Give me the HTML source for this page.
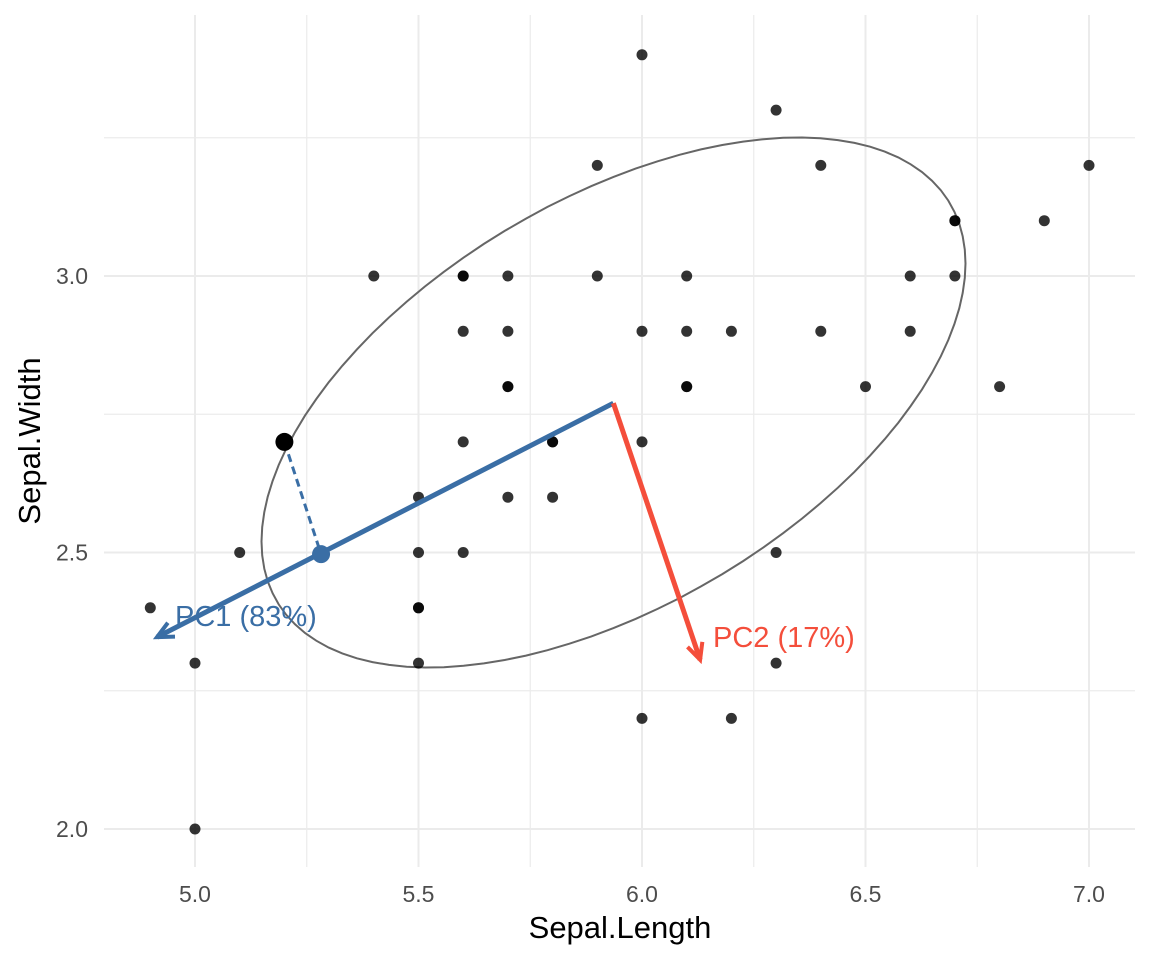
<!DOCTYPE html>
<html><head><meta charset="utf-8"><style>
body{margin:0;background:#fff;font-family:"Liberation Sans",sans-serif}
svg text{font-family:"Liberation Sans",sans-serif}
</style></head><body>
<svg id="c" width="1152" height="960"></svg>
<script>
const sepalLength=[7.0,6.4,6.9,5.5,6.5,5.7,6.3,4.9,6.6,5.2,5.0,5.9,6.0,6.1,5.6,6.7,5.6,5.8,6.2,5.6,5.9,6.1,6.3,6.1,6.4,6.6,6.8,6.7,6.0,5.7,5.5,5.5,5.8,6.0,5.4,6.0,6.7,6.3,5.6,5.5,5.5,6.1,5.8,5.0,5.6,5.7,5.7,6.2,5.1,5.7];
const sepalWidth=[3.2,3.2,3.1,2.3,2.8,2.8,3.3,2.4,2.9,2.7,2.0,3.0,2.2,2.9,2.9,3.1,3.0,2.7,2.2,2.5,3.2,2.8,2.5,2.8,2.9,3.0,2.8,3.0,2.9,2.6,2.4,2.4,2.7,2.7,3.0,3.4,3.1,2.3,3.0,2.5,2.6,3.0,2.6,2.3,2.7,3.0,2.9,2.9,2.5,2.8];
const xTicks=[5.0,5.5,6.0,6.5,7.0];
const yTicks=[2.0,2.5,3.0];
const center=[5.936,2.770];
const pc1End=[4.915,2.347];
const pc2End=[6.13,2.306];
const selected=[5.2,2.7];
const projected=[5.282,2.497];
const sx=v=>195+(v-5)*447;
const sy=v=>276-(v-3)*553;
const svg=document.getElementById('c');
const NS='http://www.w3.org/2000/svg';
function mk(t,a,p){const e=document.createElementNS(NS,t);for(const k in a)e.setAttribute(k,a[k]);(p||svg).appendChild(e);return e;}
for(let v=5.0;v<=7.01;v+=0.25){const l=mk('line',{x1:sx(v),x2:sx(v),y1:15,y2:867,stroke:'#ebebeb','stroke-width':Math.abs((v*2)%1)<0.01?2:1.2});
}
for(let v=2.0;v<=3.26;v+=0.25){const l=mk('line',{x1:104,x2:1135,y1:sy(v),y2:sy(v),stroke:'#ebebeb','stroke-width':Math.abs((v*2)%1)<0.01?2:1.2});
}
xTicks.forEach(v=>{const t=mk('text',{x:sx(v),y:902,'text-anchor':'middle','font-size':23,fill:'#4d4d4d'});t.textContent=v.toFixed(1);
});
yTicks.forEach(v=>{const t=mk('text',{x:88,y:sy(v)+8,'text-anchor':'end','font-size':23,fill:'#4d4d4d'});t.textContent=v.toFixed(1);
});
let t=mk('text',{x:620,y:938,'text-anchor':'middle','font-size':31,fill:'#000'});t.textContent='Sepal.Length';

t=mk('text',{x:0,y:0,'text-anchor':'middle','font-size':31,fill:'#000',transform:'translate(40,441) rotate(-90)'});t.textContent='Sepal.Width';

const ecx=613.5,ecy=402.5;let dpath='';
for(let i=0;i<=100;i++){const a=i/100*2*Math.PI;const x=ecx+352*Math.cos(a),y=ecy-139*Math.cos(a)-225.6*Math.sin(a);dpath+=(i?'L':'M')+x.toFixed(1)+','+y.toFixed(1);}
const el=mk('path',{d:dpath+'Z',fill:'none',stroke:'#666','stroke-width':2});

sepalLength.forEach((x,i)=>{const c=mk('circle',{cx:sx(x),cy:sy(sepalWidth[i]),r:5.5,fill:'rgba(0,0,0,0.8)'});
});
function arrow(a,b,col,name){const g=mk('g',{});
const x1=sx(a[0]),y1=sy(a[1]),x2=sx(b[0]),y2=sy(b[1]);mk('line',{x1,y1,x2,y2,stroke:col,'stroke-width':5},g);
const ang=Math.atan2(y2-y1,x2-x1),L=18,w=0.45;
mk('polyline',{points:`${x2-L*Math.cos(ang-w)},${y2-L*Math.sin(ang-w)} ${x2},${y2} ${x2-L*Math.cos(ang+w)},${y2-L*Math.sin(ang+w)}`,fill:'none',stroke:col,'stroke-width':4},g);}
arrow(center,pc1End,'#3a6ea5','pc1-arrow');
arrow(center,pc2End,'#f44e3b','pc2-arrow');
const d=mk('line',{x1:sx(selected[0]),y1:sy(selected[1]),x2:sx(projected[0]),y2:sy(projected[1]),stroke:'#3a6ea5','stroke-width':3,'stroke-dasharray':'8,5'});

let c=mk('circle',{cx:sx(selected[0]),cy:sy(selected[1]),r:9,fill:'#000'});

c=mk('circle',{cx:sx(projected[0]),cy:sy(projected[1]),r:9,fill:'#3a6ea5'});

t=mk('text',{x:175,y:626,'font-size':29,fill:'#3a6ea5'});t.textContent='PC1 (83%)';

t=mk('text',{x:713,y:647,'font-size':29,fill:'#f44e3b'});t.textContent='PC2 (17%)';

</script>
</body></html>
